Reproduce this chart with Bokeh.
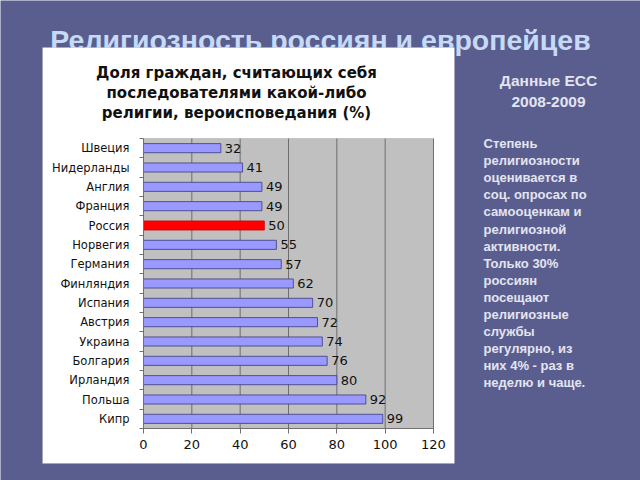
from bokeh.plotting import figure
from bokeh.models import BoxAnnotation, Label, FixedTicker, ColumnDataSource, Range1d
from bokeh.core.properties import value
from bokeh.embed import file_html
from bokeh.resources import INLINE

countries = ["Швеция", "Нидерланды", "Англия", "Франция", "Россия", "Норвегия",
             "Германия", "Финляндия", "Испания", "Австрия", "Украина", "Болгария",
             "Ирландия", "Польша", "Кипр"]
shares = [32, 41, 49, 49, 50, 55, 57, 62, 70, 72, 74, 76, 80, 92, 99]
highlight = "Россия"
x_ticks = [0, 20, 40, 60, 80, 100, 120]

slide_title = "Религиозность россиян и европейцев"
chart_title = ["Доля граждан, считающих себя",
               "последователями какой-либо",
               "религии, вероисповедания (%)"]
side_head = ["Данные ЕСС", "2008-2009"]
side_text = ["Степень", "религиозности", "оценивается в", "соц. опросах по",
             "самооценкам и", "религиозной", "активности.", "Только 30%",
             "россиян", "посещают", "религиозные", "службы", "регулярно, из",
             "них 4% - раз в", "неделю и чаще."]

W, H = 640, 480
BG = "#5a5e8f"
n = len(countries)

# chart plot-area geometry on the slide (pixels)
PL, PR, PT, PB = 143, 433, 138, 428
x_lo, x_hi = x_ticks[0], x_ticks[-1]
y_lo, y_hi = -0.5, n - 0.5
kx = (PR - PL) / (x_hi - x_lo)
ky = (PB - PT) / (y_hi - y_lo)

pos = [n - 1 - i for i in range(n)]
colors = ["#ff0000" if c == highlight else "#9999ff" for c in countries]
lines = ["#cc0000" if c == highlight else "#3a3a80" for c in countries]
src = ColumnDataSource(dict(y=pos, v=shares, c=colors, lc=lines,
                            t=[str(s) for s in shares]))

p = figure(width=W, height=H, output_backend="svg", toolbar_location=None,
           x_range=Range1d(x_lo - PL / kx, x_hi + (W - PR) / kx),
           y_range=Range1d(y_lo - (H - PB) / ky, y_hi + PT / ky),
           min_border=0)
p.border_fill_color = BG
p.background_fill_color = BG
p.outline_line_color = None
p.xgrid.visible = False
p.ygrid.visible = False

U = dict(x_units="canvas", y_units="canvas")

# slide title (partly hidden under the white panel)
p.add_layout(Label(x=320, y=39, **U,
                   text=slide_title, text_align="center", text_baseline="middle",
                   text_font="Liberation Sans", text_font_style="bold",
                   text_font_size="28.5px", text_color="#c6daf6", level="image"))

panel = BoxAnnotation(left=42, right=454, top=47, bottom=463,
                      left_units="canvas", right_units="canvas",
                      top_units="canvas", bottom_units="canvas",
                      fill_color="white", fill_alpha=1, line_color="#9a9a9a",
                      line_width=1, level="underlay")
plotbg = BoxAnnotation(left=x_lo, right=x_hi, bottom=y_lo, top=y_hi,
                       fill_color="#c0c0c0", fill_alpha=1, line_color="#8a8a8a",
                       line_width=1, level="underlay")
p.renderers.append(panel)
p.renderers.append(plotbg)

# vertical gridlines at the tick values
p.segment(x0=x_ticks[1:], x1=x_ticks[1:], y0=y_lo, y1=y_hi,
          line_color="#6e6e6e", line_width=1)

p.hbar(y="y", right="v", left=0, height=0.47, source=src,
       fill_color="c", line_color="lc", line_width=0.8)
p.text(x="v", y="y", text="t", source=src, x_offset=4, text_baseline="middle",
       text_font=value("DejaVu Sans"), text_font_size="13px", text_color="#111111")

xa = p.xaxis[0]
xa.fixed_location = y_lo
xa.bounds = (x_lo, x_hi)
xa.ticker = FixedTicker(ticks=x_ticks)
xa.axis_line_color = "#707070"
xa.major_tick_line_color = "#707070"
xa.major_tick_in = 0
xa.major_tick_out = 5
xa.minor_tick_line_color = None
xa.major_label_standoff = 6
xa.major_label_text_font = "DejaVu Sans"
xa.major_label_text_font_size = "13px"
xa.major_label_text_color = "#111111"

ya = p.yaxis[0]
ya.fixed_location = x_lo
ya.bounds = (y_lo, y_hi)
ya.ticker = FixedTicker(ticks=pos, minor_ticks=[k + 0.5 for k in range(-1, n)])
ya.major_label_overrides = {y: c for y, c in zip(pos, countries)}
ya.axis_line_color = "#707070"
ya.major_tick_line_color = None
ya.minor_tick_line_color = "#707070"
ya.minor_tick_in = 0
ya.minor_tick_out = 4
ya.major_tick_out = 0
ya.major_label_standoff = 10
ya.major_label_text_font = "DejaVu Sans"
ya.major_label_text_font_size = "11.5px"
ya.major_label_text_color = "#111111"

for i, line in enumerate(chart_title):
    p.add_layout(Label(x=236, y=72 + 20 * i, **U,
                       text=line, text_align="center", text_baseline="middle",
                       text_font="DejaVu Sans", text_font_style="bold",
                       text_font_size="15px", text_color="#111111"))

for i, line in enumerate(side_head):
    p.add_layout(Label(x=548, y=80 + 21.5 * i, **U,
                       text=line, text_align="center", text_baseline="middle",
                       text_font="Liberation Sans", text_font_style="bold",
                       text_font_size="15.5px", text_color="#e4e4f0"))

for i, line in enumerate(side_text):
    p.add_layout(Label(x=483, y=143 + 17.1 * i, **U,
                       text=line, text_align="left", text_baseline="middle",
                       text_font="Liberation Sans", text_font_style="bold",
                       text_font_size="13px", text_color="#e4e4f0"))

open("out.html", "w").write(file_html(p, INLINE))
